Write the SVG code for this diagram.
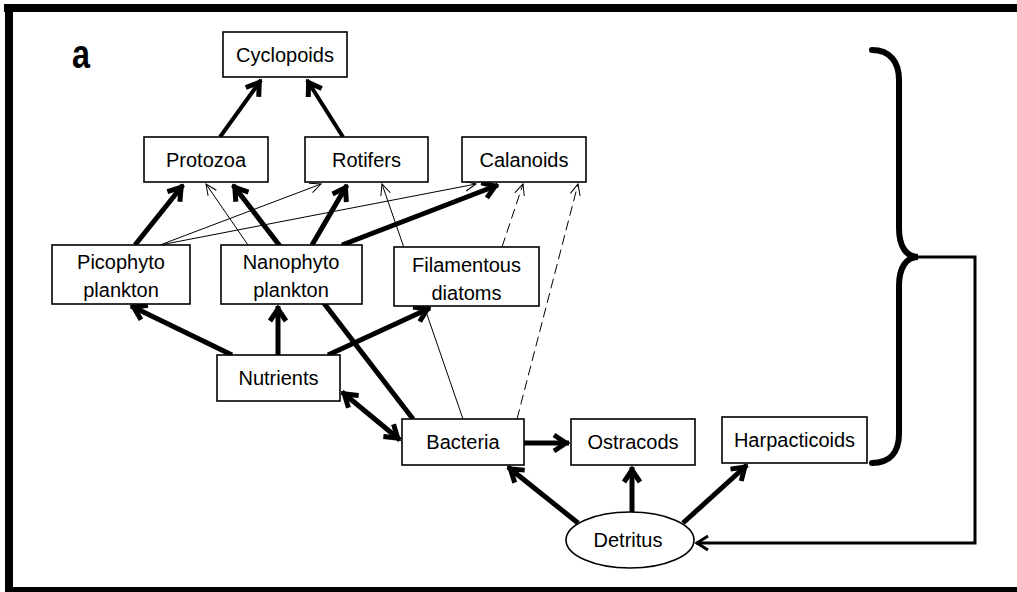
<svg xmlns="http://www.w3.org/2000/svg" width="1017" height="592" viewBox="0 0 1017 592">
  <style>
    .box { fill: #fff; stroke: #000; stroke-width: 1.6; }
    .lbl { font-family: "Liberation Sans", Arial, sans-serif; font-size: 20px; fill: #000; text-anchor: middle; }
    .heavy { stroke: #000; stroke-width: 5; fill: none; marker-end: url(#headHeavy); }
    .mid { stroke: #000; stroke-width: 4; fill: none; marker-end: url(#headHeavy); }
    .thin { stroke: #000; stroke-width: 1; fill: none; marker-end: url(#headThin); }
    .dash { stroke: #000; stroke-width: 1; fill: none; stroke-dasharray: 10 5; marker-end: url(#headThin); }
  </style>
  <defs>
    <marker id="headHeavy" markerUnits="userSpaceOnUse" markerWidth="30" markerHeight="30" refX="3" refY="0" orient="auto" overflow="visible">
      <path d="M-12,-8 L0,0 L-12,8" fill="none" stroke="#000" stroke-width="5" stroke-linejoin="miter"/>
    </marker>
    <marker id="headHeavyStart" markerUnits="userSpaceOnUse" markerWidth="30" markerHeight="30" refX="3" refY="0" orient="auto-start-reverse" overflow="visible">
      <path d="M-12,-8 L0,0 L-12,8" fill="none" stroke="#000" stroke-width="5" stroke-linejoin="miter"/>
    </marker>
    <marker id="headThin" markerUnits="userSpaceOnUse" markerWidth="20" markerHeight="20" refX="0" refY="0" orient="auto" overflow="visible">
      <path d="M-11,-5 L0,0 L-11,5" fill="none" stroke="#000" stroke-width="1"/>
    </marker>
    <marker id="headLink" markerUnits="userSpaceOnUse" markerWidth="20" markerHeight="20" refX="1" refY="0" orient="auto" overflow="visible">
      <path d="M-11,-7 L0,0 L-11,7" fill="none" stroke="#000" stroke-width="3"/>
    </marker>
  </defs>

  <!-- frame -->
  <g id="frame" fill="#000">
    <rect x="4" y="4" width="1013" height="8"/>
    <rect x="5" y="4" width="8" height="588"/>
    <rect x="5" y="587" width="1012" height="5"/>
  </g>

  <text x="72" y="68" font-family="Liberation Sans, Arial, sans-serif" font-size="40" font-weight="bold" textLength="18" lengthAdjust="spacingAndGlyphs">a</text>

  <!-- connectors -->
  <g id="connectors">
    <line class="mid" x1="220" y1="137" x2="261" y2="80"/>
    <line class="mid" x1="343" y1="137" x2="307" y2="80"/>
    <line class="heavy" x1="135" y1="245" x2="183" y2="185"/>
    <line class="heavy" x1="413" y1="419" x2="233" y2="185"/>
    <line class="thin" x1="248" y1="245" x2="206" y2="184"/>
    <line class="heavy" x1="312" y1="245" x2="347" y2="185"/>
    <line class="heavy" x1="342" y1="245" x2="498" y2="185" stroke-width="6"/>
    <line class="thin" x1="160" y1="245" x2="321" y2="184"/>
    <line class="thin" x1="160" y1="245" x2="476" y2="184"/>
    <line class="thin" x1="463" y1="419" x2="382" y2="184"/>
    <line class="dash" x1="502" y1="247" x2="523" y2="184"/>
    <line class="dash" x1="517" y1="419" x2="578" y2="184"/>
    <line class="heavy" x1="232" y1="355" x2="131" y2="306"/>
    <line class="heavy" x1="278" y1="355" x2="278" y2="306"/>
    <line class="heavy" x1="328" y1="355" x2="430" y2="308"/>
    <line class="heavy" x1="342" y1="392" x2="400" y2="440" marker-start="url(#headHeavyStart)"/>
    <line class="heavy" x1="524" y1="443" x2="569" y2="443"/>
    <line class="heavy" x1="578" y1="523" x2="508" y2="467"/>
    <line class="heavy" x1="632" y1="512" x2="632" y2="467"/>
    <line class="heavy" x1="683" y1="523" x2="747" y2="465"/>
    <!-- brace and return link to detritus -->
    <path d="M872,50 C890,50 899,62 899,80 L899,228 C899,246 906,257 918,257 C906,257 899,268 899,286 L899,434 C899,452 890,463 872,463" fill="none" stroke="#000" stroke-width="6" stroke-linecap="round"/>
    <polyline points="918,257 975,257 975,543 696,543" fill="none" stroke="#000" stroke-width="3" marker-end="url(#headLink)"/>
  </g>

  <!-- nodes -->
  <g id="cyclopoids"><rect class="box" x="223" y="32" width="124" height="45"/><text class="lbl" x="285" y="62">Cyclopoids</text></g>
  <g id="protozoa"><rect class="box" x="144" y="137" width="124" height="45"/><text class="lbl" x="206" y="167">Protozoa</text></g>
  <g id="rotifers"><rect class="box" x="305" y="137" width="123" height="45"/><text class="lbl" x="366.5" y="167">Rotifers</text></g>
  <g id="calanoids"><rect class="box" x="462" y="137" width="124" height="45"/><text class="lbl" x="524" y="167">Calanoids</text></g>
  <g id="picophytoplankton"><rect class="box" x="52" y="245" width="138" height="59"/><text class="lbl" x="121" y="269">Picophyto</text><text class="lbl" x="121" y="297">plankton</text></g>
  <g id="nanophytoplankton"><rect class="box" x="221" y="245" width="141" height="59"/><text class="lbl" x="291" y="269">Nanophyto</text><text class="lbl" x="291" y="297">plankton</text></g>
  <g id="filamentous-diatoms"><rect class="box" x="394" y="247" width="145" height="59"/><text class="lbl" x="466.5" y="272">Filamentous</text><text class="lbl" x="466.5" y="300">diatoms</text></g>
  <g id="nutrients"><rect class="box" x="217" y="355" width="123" height="46"/><text class="lbl" x="278.5" y="385">Nutrients</text></g>
  <g id="bacteria"><rect class="box" x="402" y="419" width="122" height="46"/><text class="lbl" x="463" y="449">Bacteria</text></g>
  <g id="ostracods"><rect class="box" x="571" y="419" width="124" height="46"/><text class="lbl" x="633" y="449">Ostracods</text></g>
  <g id="harpacticoids"><rect class="box" x="722" y="417" width="145" height="46"/><text class="lbl" x="794.5" y="447">Harpacticoids</text></g>
  <g id="detritus"><ellipse class="box" cx="630" cy="540" rx="64" ry="28"/><text class="lbl" x="628" y="547">Detritus</text></g>
</svg>
